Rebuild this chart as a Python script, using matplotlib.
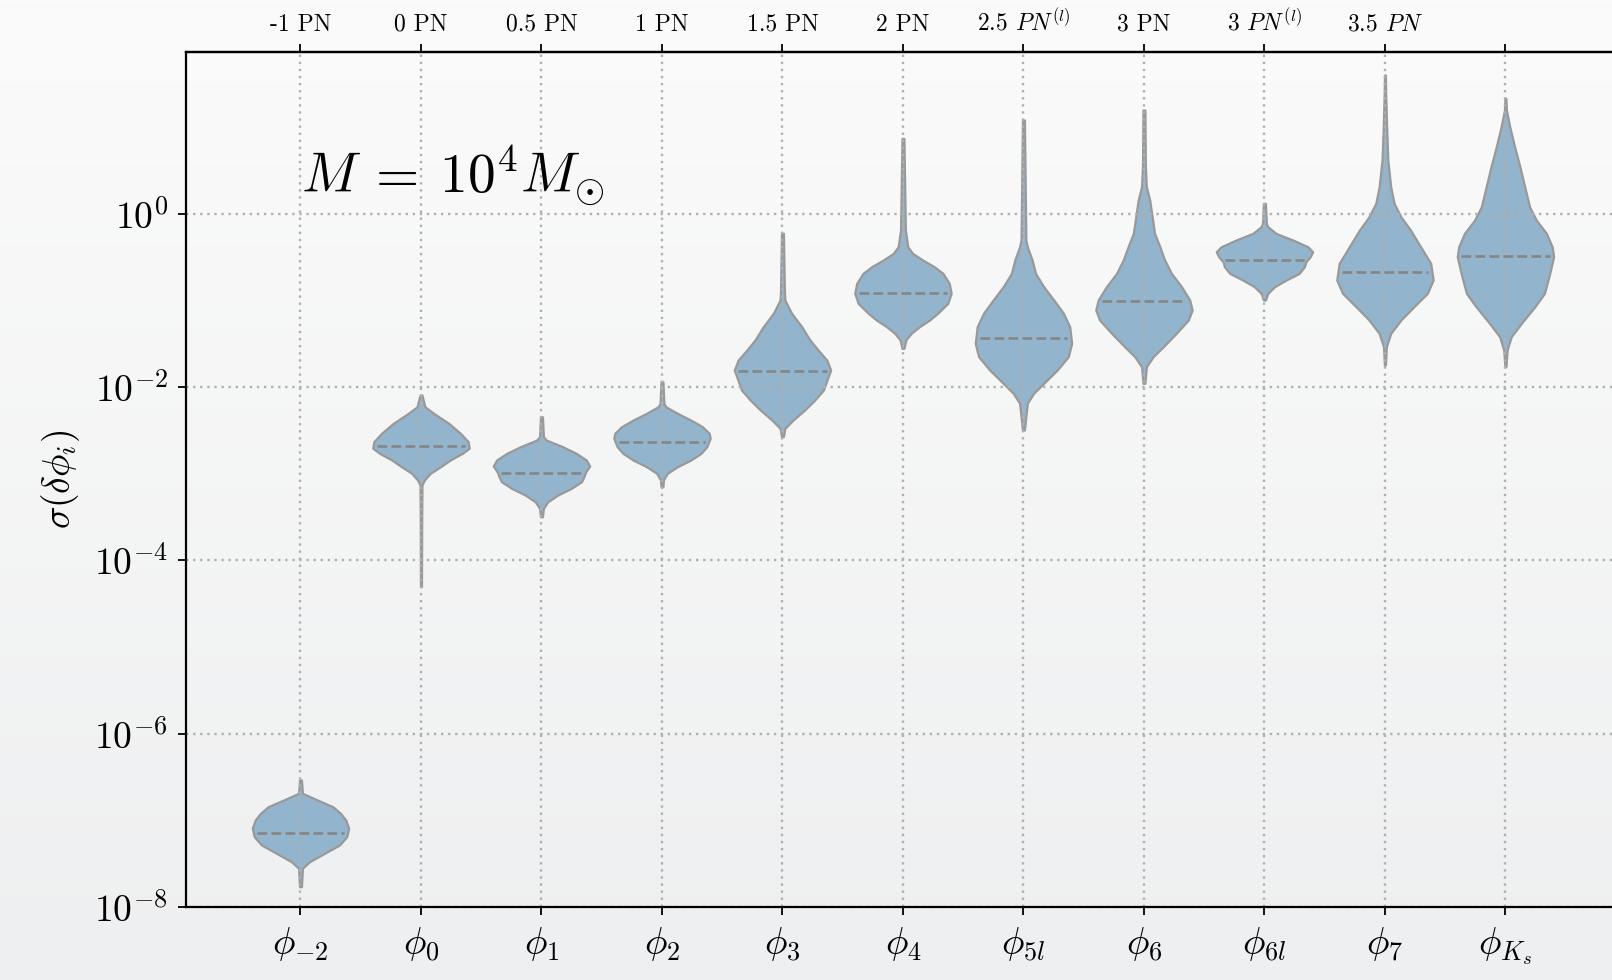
import numpy as np
import matplotlib.pyplot as plt
from matplotlib.ticker import NullLocator

plt.rcParams["mathtext.fontset"] = "cm"
plt.rcParams["font.family"] = "cmr10"
plt.rcParams["axes.formatter.use_mathtext"] = True

# phase coefficients and their post-Newtonian order
params = [r"$\phi_{-2}$", r"$\phi_0$", r"$\phi_1$", r"$\phi_2$", r"$\phi_3$", r"$\phi_4$",
          r"$\phi_{5l}$", r"$\phi_6$", r"$\phi_{6l}$", r"$\phi_7$", r"$\phi_{K_s}$"]
pn_orders = ["-1 PN", "0 PN", "0.5 PN", "1 PN", "1.5 PN", "2 PN", r"2.5 $PN^{(l)}$",
             "3 PN", r"3 $PN^{(l)}$", r"3.5 $PN$", ""]

# log10 sigma(delta phi_i) along each violin, top to bottom
log_sigma = [
    [-6.534, -6.688, -6.765, -6.842, -6.919, -6.996, -7.092, -7.189, -7.284, -7.380, -7.477, -7.553, -7.766],
    [-2.091, -2.226, -2.302, -2.418, -2.533, -2.630, -2.706, -2.764, -2.841, -2.919, -2.995, -3.072, -3.130, -3.500, -4.303],
    [-2.342, -2.572, -2.611, -2.688, -2.764, -2.841, -2.911, -2.976, -3.034, -3.092, -3.168, -3.245, -3.323, -3.399, -3.496],
    [-1.938, -2.187, -2.226, -2.302, -2.380, -2.457, -2.533, -2.591, -2.688, -2.764, -2.841, -2.919, -2.995, -3.072, -3.149],
    [-0.225, -0.879, -0.995, -1.148, -1.303, -1.456, -1.572, -1.687, -1.803, -1.956, -2.033, -2.149, -2.264, -2.380, -2.475, -2.572],
    [0.871, -0.187, -0.380, -0.456, -0.533, -0.610, -0.687, -0.802, -0.917, -1.033, -1.148, -1.226, -1.303, -1.379, -1.456, -1.552],
    [1.083, -0.302, -0.380, -0.533, -0.687, -0.841, -0.995, -1.148, -1.303, -1.494, -1.649, -1.803, -1.956, -2.072, -2.187, -2.495],
    [1.198, 0.544, 0.313, 0.159, -0.033, -0.225, -0.380, -0.533, -0.687, -0.841, -0.995, -1.110, -1.226, -1.379, -1.534, -1.649, -1.765, -1.956],
    [0.121, -0.110, -0.149, -0.225, -0.302, -0.380, -0.437, -0.495, -0.553, -0.610, -0.687, -0.764, -0.841, -0.917, -0.995],
    [1.602, 1.391, 1.005, 0.621, 0.313, 0.121, -0.033, -0.187, -0.380, -0.571, -0.764, -0.917, -1.072, -1.226, -1.379, -1.534, -1.745],
    [1.333, 1.198, 1.005, 0.774, 0.544, 0.313, 0.082, -0.072, -0.225, -0.380, -0.495, -0.687, -0.917, -1.072, -1.264, -1.418, -1.572, -1.765],
]

# relative density at those points (1 = widest)
density = [
    [0.02, 0.04, 0.35, 0.67, 0.83, 0.94, 1.00, 0.96, 0.81, 0.50, 0.19, 0.04, 0.02],
    [0.02, 0.08, 0.26, 0.57, 0.81, 0.97, 0.99, 0.85, 0.60, 0.40, 0.19, 0.07, 0.02, 0.015, 0.01],
    [0.02, 0.04, 0.10, 0.44, 0.72, 0.93, 1.00, 0.92, 0.88, 0.83, 0.62, 0.34, 0.13, 0.04, 0.02],
    [0.02, 0.04, 0.08, 0.32, 0.60, 0.84, 0.98, 1.00, 0.93, 0.81, 0.60, 0.32, 0.11, 0.03, 0.02],
    [0.02, 0.04, 0.05, 0.19, 0.40, 0.57, 0.74, 0.92, 1.00, 0.90, 0.85, 0.67, 0.46, 0.22, 0.05, 0.02],
    [0.02, 0.05, 0.10, 0.20, 0.41, 0.65, 0.83, 0.96, 1.00, 0.93, 0.72, 0.55, 0.34, 0.17, 0.06, 0.02],
    [0.02, 0.05, 0.08, 0.18, 0.25, 0.42, 0.63, 0.83, 0.96, 1.00, 0.93, 0.70, 0.42, 0.21, 0.08, 0.02],
    [0.02, 0.03, 0.05, 0.12, 0.17, 0.22, 0.33, 0.43, 0.57, 0.78, 0.95, 1.00, 0.92, 0.67, 0.40, 0.19, 0.05, 0.02],
    [0.02, 0.04, 0.07, 0.24, 0.59, 0.90, 1.00, 0.95, 0.86, 0.83, 0.72, 0.45, 0.21, 0.07, 0.02],
    [0.01, 0.015, 0.035, 0.06, 0.12, 0.19, 0.33, 0.53, 0.74, 0.95, 1.00, 0.88, 0.60, 0.33, 0.12, 0.03, 0.01],
    [0.01, 0.02, 0.09, 0.19, 0.30, 0.40, 0.50, 0.64, 0.85, 0.97, 1.00, 0.92, 0.81, 0.61, 0.33, 0.12, 0.035, 0.01],
]

median_log_sigma = [-7.149, -2.676, -2.992, -2.637, -1.811, -0.911, -1.430, -1.003, -0.533, -0.675, -0.483]

fill_color = "#93b4cd"
edge_color = "#999999"
width = 0.8

fig = plt.figure(figsize=(16.12, 9.8), dpi=100)

# soft grey backdrop, lighter at the top
bg = fig.add_axes([0, 0, 1, 1], zorder=-10)
top_rgb = np.array([251, 251, 251]) / 255
bot_rgb = np.array([238, 239, 240]) / 255
t = np.linspace(0, 1, 256)[:, None, None]
grad = top_rgb * (1 - t) + bot_rgb * t
bg.imshow(np.repeat(grad, 2, axis=1), aspect="auto", extent=(0, 1, 0, 1))
bg.set_axis_off()

ax = fig.add_axes([0.1154, 0.0745, 0.8895, 0.872])
ax.patch.set_alpha(0)
ax.set_yscale("log")

positions = np.arange(len(params))
vpstats = []
for i in range(len(params)):
    coords = 10 ** np.array(log_sigma[i])
    med = 10 ** median_log_sigma[i]
    vpstats.append(dict(coords=coords, vals=np.array(density[i]), mean=med,
                        median=med, min=coords.min(), max=coords.max()))

parts = ax.violin(vpstats, positions=positions, widths=width, showmeans=False,
                  showextrema=False, showmedians=False)
for body in parts["bodies"]:
    body.set_facecolor(fill_color)
    body.set_edgecolor(edge_color)
    body.set_linewidth(1.6)
    body.set_joinstyle("round")
    body.set_alpha(1)

# dashed median line spanning the violin at that height
for i in range(len(params)):
    ls = np.array(log_sigma[i])[::-1]
    d = np.array(density[i])[::-1]
    hw = 0.5 * width * np.interp(median_log_sigma[i], ls, d) / d.max() * 0.92
    ax.hlines(10 ** median_log_sigma[i], positions[i] - hw, positions[i] + hw,
              colors="#858585", linestyles="--", linewidth=1.9, zorder=3)

ax.set_xlim(-0.95, 10.95)
ax.set_ylim(1e-8, 10 ** 1.863)
ax.set_xticks(positions)
ax.set_xticklabels(params, fontsize=27)
ax.set_yticks([1e-8, 1e-6, 1e-4, 1e-2, 1])
ax.yaxis.set_minor_locator(NullLocator())
ax.tick_params(axis="y", labelsize=27, length=6, width=1.3, direction="out", pad=7)
ax.tick_params(axis="x", length=6, width=1.3, direction="out", pad=7)
ax.grid(True, color="#b0b0b0", linestyle=(0, (1, 2)), linewidth=1.7)
ax.set_axisbelow("line")
ax.spines["right"].set_visible(False)
for s in ["left", "bottom", "top"]:
    ax.spines[s].set_linewidth(1.6)

ax.set_ylabel(r"$\sigma(\delta\phi_i)$", fontsize=27)
ax.yaxis.set_label_coords(-0.0725, 0.5)

ax_top = ax.twiny()
ax_top.set_xlim(ax.get_xlim())
ax_top.set_xticks(positions)
ax_top.set_xticklabels(pn_orders, fontsize=17)
ax_top.tick_params(axis="x", length=6, width=1.3, direction="out", pad=6)
for s in ["left", "bottom", "right"]:
    ax_top.spines[s].set_visible(False)
ax_top.spines["top"].set_linewidth(1.6)

ax.text(0.0805, 0.8355, r"$M\:=\:10^4 M_{\odot}$", transform=ax.transAxes,
        fontsize=40, va="baseline", ha="left")

fig.savefig("out.png", dpi=100)
